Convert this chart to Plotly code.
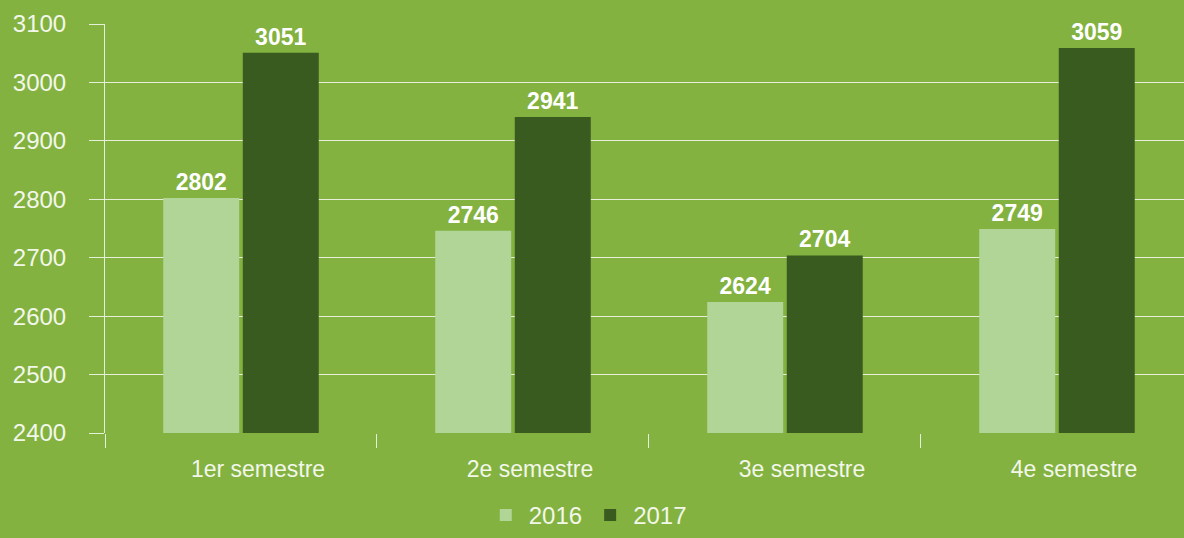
import plotly.graph_objects as go

categories = ["1er semestre", "2e semestre", "3e semestre", "4e semestre"]
values_2016 = [2802, 2746, 2624, 2749]
values_2017 = [3051, 2941, 2704, 3059]

BG = "#83b240"
LIGHT = "#b0d597"
DARK = "#3a5b1f"
GRID = "#e6efd9"
FONT = "Liberation Sans"

fig = go.Figure()
fig.add_trace(go.Bar(x=categories, y=values_2016, name="2016", marker_color=LIGHT,
                     marker_line_width=0,
                     text=values_2016, textposition="outside", cliponaxis=False,
                     textfont=dict(color="white", size=23, family=FONT, weight="bold")))
fig.add_trace(go.Bar(x=categories, y=values_2017, name="2017", marker_color=DARK,
                     marker_line_width=0,
                     text=values_2017, textposition="outside", cliponaxis=False,
                     textfont=dict(color="white", size=23, family=FONT, weight="bold")))

fig.update_layout(
    width=1184, height=538,
    paper_bgcolor=BG, plot_bgcolor=BG,
    margin=dict(l=105, r=0, t=24, b=105, autoexpand=False),
    barmode="group", bargap=0.415, bargroupgap=0.045,
    font=dict(family=FONT, color="#f2f7ea", size=22),
    legend=dict(orientation="h", xref="container", yref="container",
                x=0.496, xanchor="center", y=-0.018, yanchor="bottom",
                font=dict(size=24), itemwidth=36, traceorder="normal"),
    xaxis=dict(range=[-0.5, 3.467], tickson="boundaries", ticks="outside", ticklen=14,
               tickcolor=GRID, showgrid=False, showline=False, ticklabelshift=17,
               ticklabelstandoff=20, tickfont=dict(size=23), automargin=False),
    yaxis=dict(range=[2400, 3100], dtick=100, showgrid=True, gridcolor=GRID, gridwidth=1,
               ticks="outside", ticklen=15, tickcolor=GRID, showline=True, linecolor=GRID,
               ticklabelstandoff=18, tickfont=dict(size=24), zeroline=False, automargin=False),
)

fig.write_html("out.html", config={"displayModeBar": False},
               post_script="document.body.style.margin='0';")
